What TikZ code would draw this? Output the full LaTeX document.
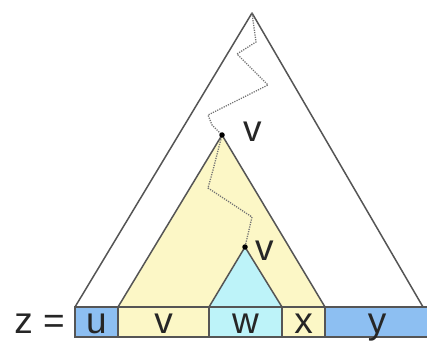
\documentclass[tikz,border=0pt]{standalone}
\usepackage{fontspec}
\setmainfont{Liberation Sans}
\usetikzlibrary{positioning}
\definecolor{cellblue}{HTML}{8DBFF2}
\definecolor{treeyellow}{HTML}{FCF7C6}
\definecolor{treecyan}{HTML}{BDF3F9}
\definecolor{edgegray}{HTML}{555555}

\begin{document}
\begin{tikzpicture}[
  x=1pt, y=-1pt,
  tree/.style={draw=edgegray, line width=1.5pt, line join=round},
  cell/.style={draw=edgegray, line width=1.9pt},
  word/.style={font=\fontsize{37}{40}\selectfont, text=black!85, inner sep=0pt, anchor=base},
  walk/.style={draw=black!55, line width=1.3pt, dash pattern=on 1.2pt off 1.2pt},
  knot/.style={circle, fill=black, inner sep=0pt, minimum size=5.5pt}]
  \useasboundingbox (0,0) rectangle (427,344);
  \clip (0,0) rectangle (427,344);
  % subtrees
  \coordinate (root) at (252,13);
  \coordinate (v1) at (222,135);
  \coordinate (v2) at (245,247);
  \draw[tree, fill=white] (root) -- (423,307) -- (75,307) -- cycle;
  \draw[tree, fill=treeyellow] (v1) -- (325,307) -- (118,307) -- cycle;
  \draw[tree, fill=treecyan] (v2) -- (282,307) -- (209,307) -- cycle;
  % the word z
  \foreach \name/\left/\right/\col in {u/75/118/cellblue, v/118/209/treeyellow,
      w/209/282/treecyan, x/282/325/treeyellow, y/325/429/cellblue} {
    \draw[cell, fill=\col] (\left,307) rectangle (\right,337);
    \node[word] (cell-\name) at ({(\left+\right)/2},333) {\name};
  }
  \node[word, anchor=base east] (zeq) at (65,333) {z =};
  % path through the repeated variable
  \draw[walk] (root) -- (256,42) -- (237,54) -- (268,85) -- (208,115)
    -- (212,125) -- (v1) -- (213,170) -- (208,188) -- (252,217) -- (v2);
  \node[knot] (dot1) at (v1) {};
  \node[knot] (dot2) at (v2) {};
  \node[word, anchor=base west] (lv1) at ([xshift=21pt, yshift=-7pt]v1) {v};
  \node[word, anchor=base west] (lv2) at ([xshift=10pt, yshift=-13pt]v2) {v};
\end{tikzpicture}
\end{document}
